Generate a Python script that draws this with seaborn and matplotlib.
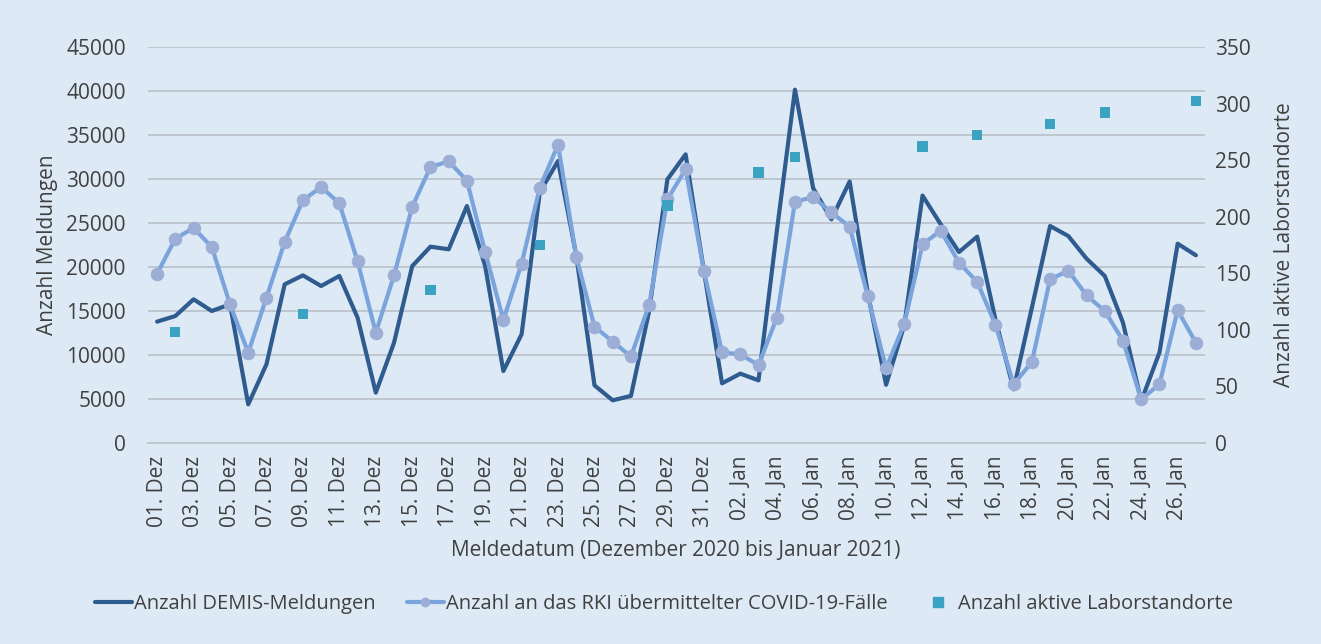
import numpy as np
import pandas as pd
import matplotlib
matplotlib.use("Agg")
import matplotlib.pyplot as plt
import seaborn as sns
from matplotlib.lines import Line2D

# ---------------- data ----------------
dates = [f"{d:02d}. Dez" for d in range(1, 32)] + [f"{d:02d}. Jan" for d in range(1, 28)]

demis = [13790, 14430, 16330, 15000, 15760, 4390, 8940, 18030, 19050, 17840,
         18980, 14240, 5720, 11400, 20110, 22310, 22010, 26930, 20110, 8180,
         12350, 28500, 32050, 21300, 6550, 4850, 5350, 15000, 29960, 32800,
         19600, 6780, 7880, 7120, 24000, 40150, 28950, 25420, 29720, 17000,
         6620, 13400, 28120, 24850, 21700, 23450, 14050, 6100, 15380, 24660,
         23520, 20950, 18980, 13670, 4770, 10270, 22650, 21330]

rki = [19240, 23220, 24430, 22270, 15760, 10270, 16520, 22840, 27580, 29090,
       27240, 20640, 12540, 19050, 26860, 31360, 32010, 29810, 21740, 13980,
       20380, 29020, 33900, 21170, 13220, 11520, 9830, 15700, 27690, 31100,
       19600, 10300, 10080, 8860, 14200, 27400, 27950, 26200, 24580, 16650,
       8500, 13560, 22580, 24130, 20490, 18300, 13450, 6670, 9200, 18600,
       19580, 16780, 15000, 11630, 4960, 6670, 15080, 11400]

lab_dates = ["02. Dez", "09. Dez", "16. Dez", "22. Dez", "29. Dez", "03. Jan",
             "05. Jan", "12. Jan", "15. Jan", "19. Jan", "22. Jan", "27. Jan"]
lab_values = [98, 114, 135, 175, 210, 239, 253, 262, 272, 282, 292, 302]

left_ticks = [0, 5000, 10000, 15000, 20000, 25000, 30000, 35000, 40000, 45000]
right_ticks = [0, 50, 100, 150, 200, 250, 300, 350]

# ---------------- style ----------------
BG = "#DDEAF6"
DARK = "#2F5B8F"
LIGHT = "#7BA4DC"
MFC = "#9DAED6"
TEAL = "#3BA2C2"
GRID = "#BFC6CE"
TXT = "#404040"
FS = 15

sns.set_theme(style="white")
plt.rcParams['font.family'] = ['Open Sans', 'DejaVu Sans']

W, H = 1321, 644
fig = plt.figure(figsize=(W / 100, H / 100), dpi=100, facecolor=BG)
L, R, T, B = 148, 1205, 47, 443
ax = fig.add_axes([L / W, 1 - B / H, (R - L) / W, (B - T) / H])
ax.set_facecolor(BG)

df = pd.DataFrame({"x": np.arange(len(dates)), "demis": demis, "rki": rki})
sns.lineplot(data=df, x="x", y="demis", ax=ax, color=DARK, lw=3, zorder=3)
sns.lineplot(data=df, x="x", y="rki", ax=ax, color=LIGHT, lw=3, marker="o",
             markersize=9, markerfacecolor=MFC, markeredgecolor=MFC, zorder=4)

ax.set_xlim(-0.5, len(dates) - 0.5)
ax.set_ylim(0, 45000)
ax.set_yticks(left_ticks)
ax.set_yticklabels([str(v) for v in left_ticks], fontsize=FS, color=TXT)
ax.set_xticks(np.arange(0, len(dates), 2))
ax.set_xticklabels(dates[::2], rotation=90, fontsize=FS, color=TXT)
ax.set_xticks(np.arange(-0.5, len(dates), 2), minor=True)
ax.tick_params(axis="x", which="major", length=0, pad=9)
ax.tick_params(axis="x", which="minor", length=6, color=GRID, width=1.2)
ax.tick_params(axis="y", length=0, pad=16)
ax.yaxis.grid(True, color=GRID, lw=1.4)
ax.set_axisbelow(True)
ax.set_xlabel("")
ax.set_ylabel("")
for s in ["top", "left", "right"]:
    ax.spines[s].set_visible(False)
ax.spines["bottom"].set_color(GRID)
ax.spines["bottom"].set_linewidth(1.4)

ax2 = ax.twinx()
lab_x = [dates.index(d) for d in lab_dates]
sns.scatterplot(x=lab_x, y=lab_values, ax=ax2, marker="s", s=55, color=TEAL,
                edgecolor="none", zorder=5)
ax2.set_ylim(0, 350)
ax2.set_yticks(right_ticks)
ax2.set_yticklabels([str(v) for v in right_ticks], fontsize=FS, color=TXT)
ax2.tick_params(axis="y", length=0, pad=7)
for s in ["top", "left", "right", "bottom"]:
    ax2.spines[s].set_visible(False)
ax2.set_ylabel("")

fig.text(676 / W, 1 - 550 / H, "Meldedatum (Dezember 2020 bis Januar 2021)",
         ha="center", va="center", fontsize=FS, color=TXT)
fig.text(48 / W, 1 - 245 / H, "Anzahl Meldungen", rotation=90,
         ha="center", va="center", fontsize=FS, color=TXT)
fig.text(1284 / W, 1 - 245 / H, "Anzahl aktive Laborstandorte", rotation=90,
         ha="center", va="center", fontsize=FS, color=TXT)

handles = [
    Line2D([], [], color=DARK, lw=3),
    Line2D([], [], color=LIGHT, lw=3, marker="o", markersize=6,
           markerfacecolor=MFC, markeredgecolor=MFC),
    Line2D([], [], color=TEAL, lw=0, marker="s", markersize=7),
]
labels = ["Anzahl DEMIS-Meldungen", "Anzahl an das RKI übermittelter COVID-19-Fälle",
          "Anzahl aktive Laborstandorte"]
leg = fig.legend(handles, labels, loc="center", bbox_to_anchor=(664 / W, 1 - 604 / H),
                 ncol=3, frameon=False, fontsize=14.5, handlelength=1.8,
                 handletextpad=0.1, columnspacing=1.6)
for t in leg.get_texts():
    t.set_color(TXT)

fig.savefig("out.png", dpi=100, facecolor=BG)
